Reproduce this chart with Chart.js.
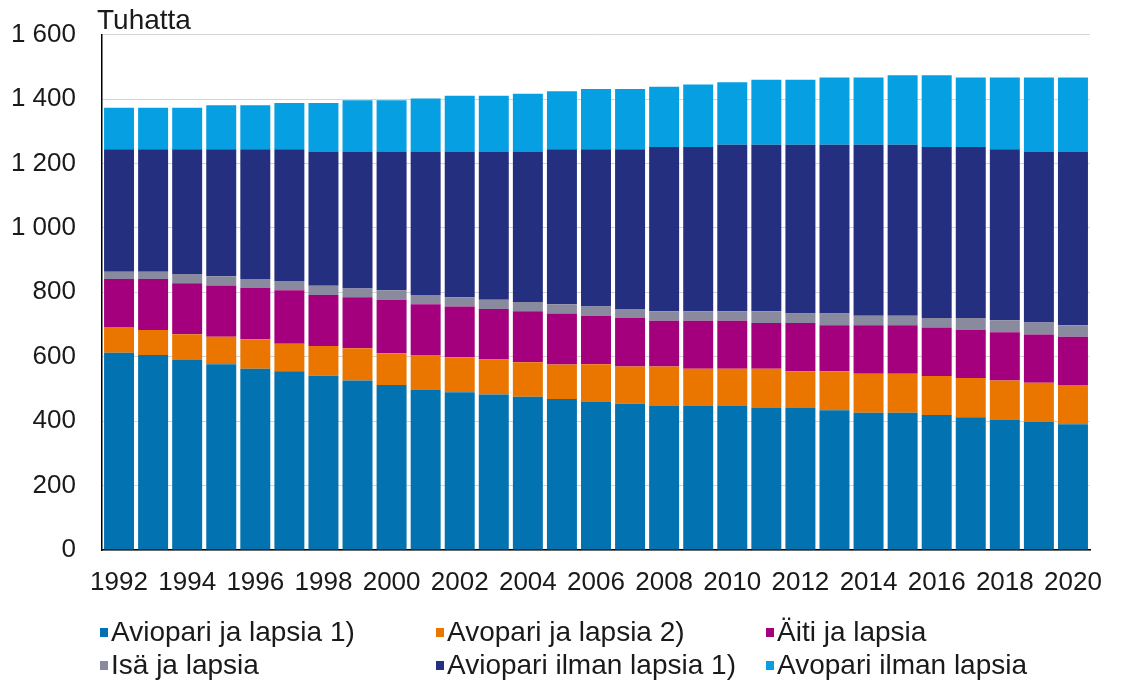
<!DOCTYPE html>
<html><head><meta charset="utf-8">
<script src="https://cdn.jsdelivr.net/npm/chart.js@4"></script>
<style>
html,body{margin:0;padding:0;background:#fff;}
#wrap{position:relative;width:1122px;height:686px;overflow:hidden;}
#c{position:absolute;left:0;top:-7px;}
.txt{position:absolute;font-family:'Liberation Sans',Arial,sans-serif;color:#1a1a1a;white-space:nowrap;line-height:1;}
.leg{font-size:28px;}
.sw{position:absolute;width:8px;height:9px;}
</style></head>
<body><div id="wrap">
<canvas id="c" width="1122" height="693"></canvas>
<div class="txt" style="left:97px;top:6px;font-size:28px;">Tuhatta</div>
<div id="legend"></div>
</div>
<script>
const years = ['1992','1993','1994','1995','1996','1997','1998','1999','2000','2001','2002','2003','2004','2005','2006','2007','2008','2009','2010','2011','2012','2013','2014','2015','2016','2017','2018','2019','2020'];
const seriesNames = ['Aviopari ja lapsia 1)','Avopari ja lapsia 2)','Äiti ja lapsia','Isä ja lapsia','Aviopari ilman lapsia 1)','Avopari ilman lapsia'];
const seriesColors = ['#0273b0','#ea7600','#a4007e','#8a8a9e','#252f7f','#069fe2'];
const aviopariLapsia = [612,605,591,577,563,555,541,526,512,498,490,483,476,469,461,454,447,447,447,441,441,434,426,426,419,412,405,397,390];
const avopariLapsia = [80,78,79,85,91,85,92,100,99,107,108,108,107,107,116,116,123,116,116,122,114,121,121,121,121,122,121,122,122];
const aitiLapsia = [149,158,158,159,160,166,159,159,166,158,158,157,158,158,150,150,142,149,149,142,150,143,151,151,151,149,150,150,150];
const isaLapsia = [23,23,29,29,27,29,28,27,29,29,29,29,29,29,29,28,29,29,29,36,29,36,29,29,29,37,37,37,36];
const aviopariIlman = [380,380,387,394,403,409,417,425,431,445,452,460,467,481,488,496,510,510,517,517,524,524,531,531,531,531,531,531,539];
const avopariIlman = [129,129,129,137,137,144,151,159,159,165,173,173,179,180,187,187,187,194,194,202,202,209,209,216,223,216,223,230,230];
const yTicks = [0,200,400,600,800,1000,1200,1400,1600];

const allSeries = [aviopariLapsia, avopariLapsia, aitiLapsia, isaLapsia, aviopariIlman, avopariIlman];
const datasets = allSeries.map((d,i)=>({
  label: seriesNames[i], data: d, backgroundColor: seriesColors[i],
  borderWidth: 0, barPercentage: 0.88, categoryPercentage: 1.0
}));

function fmt(v){ const s=String(v); return s.length>3 ? s.slice(0,s.length-3)+' '+s.slice(-3) : s; }

new Chart(document.getElementById('c'), {
  type: 'bar',
  data: { labels: years, datasets },
  options: {
    responsive: false, animation: false,
    layout: { padding: { top: 25, right: 32, bottom: 0, left: 0 } },
    plugins: { legend: { display: false }, tooltip: { enabled: false } },
    scales: {
      x: {
        stacked: true,
        grid: { display: false, drawTicks: false },
        border: { color: '#000', width: 1.5 },
        ticks: {
          autoSkip: false, maxRotation: 0, minRotation: 0, padding: 17,
          color: '#1a1a1a', font: { family: "'Liberation Sans', Arial, sans-serif", size: 26 },
          callback: (v, i) => (parseInt(years[i]) % 2 === 0 ? years[i] : '')
        },
        afterFit: s => { s.height = 136; }
      },
      y: {
        stacked: true, min: 0, max: 1600,
        afterBuildTicks: s => { s.ticks = yTicks.map(v => ({ value: v })); },
        grid: { color: '#d4d4d4', lineWidth: 1, drawTicks: false },
        border: { color: '#000', width: 1.5 },
        ticks: {
          padding: 26, color: '#1a1a1a',
          font: { family: "'Liberation Sans', Arial, sans-serif", size: 26 },
          callback: v => fmt(v)
        },
        afterFit: s => { s.width = 102; }
      }
    }
  }
});

const legendPos = [[100,618],[436,618],[766,618],[100,651],[436,651],[766,651]];
const leg = document.getElementById('legend');
seriesNames.forEach((n,i)=>{
  const [x,y] = legendPos[i];
  const sw = document.createElement('div');
  sw.className='sw'; sw.style.left = x+'px'; sw.style.top = (y+10)+'px'; sw.style.background = seriesColors[i];
  leg.appendChild(sw);
  const t = document.createElement('div');
  t.className='txt leg'; t.style.left = (x+11)+'px'; t.style.top = y+'px'; t.textContent = n;
  leg.appendChild(t);
});
</script>
</body></html>
